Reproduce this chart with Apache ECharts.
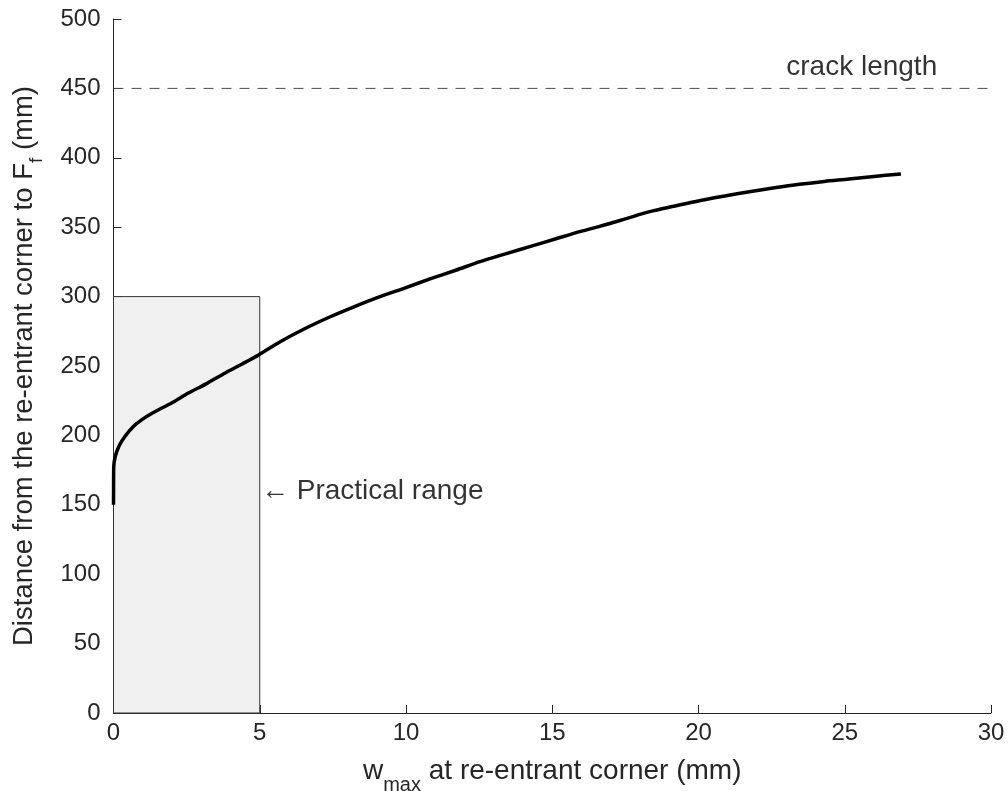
<!DOCTYPE html>
<html>
<head>
<meta charset="utf-8">
<title>Distance to Ff vs w_max</title>
<script src="https://cdn.jsdelivr.net/npm/echarts@6/dist/echarts.min.js"></script>
<style>
  html, body { margin: 0; padding: 0; background: #ffffff; }
  #chart { width: 1008px; height: 791px; }
</style>
</head>
<body>
<div id="chart"></div>
<script>
// w_max at the re-entrant corner (mm)
const wMax = [0, 0.003, 0.007, 0.06, 0.19, 0.39, 0.68, 0.96, 1.32, 2.0, 2.56, 3.2, 3.82, 4.4, 4.96,
  5.7, 6.5, 7.41, 8.2, 9.11, 10.0, 10.82, 11.7, 12.53, 13.4, 14.23, 15.1, 15.94, 16.62, 17.5, 18.33,
  19.2, 20.03, 20.9, 21.74, 22.6, 23.45, 24.3, 25.15, 26.0, 26.92];
// distance from the re-entrant corner to Ff (mm)
const distance = [150, 165, 177, 184.8, 192.4, 199.2, 206.4, 211.2, 216, 223.5, 230.5, 237.5, 245, 251.5, 258,
  267.5, 276.5, 285.5, 292.5, 300, 306.5, 312.7, 319, 325.2, 330.8, 336, 341.5, 346.8, 350.6, 356, 361.2,
  365.3, 369.1, 372.5, 375.6, 378.4, 380.9, 383, 384.7, 386.6, 388.3];

const crackLength = 450;            // mm
const practicalRange = [0, 5];      // w_max range (mm)
const practicalTop = 300;           // upper edge of the shaded box (mm)
const crackNote = [23, 465];
const rangeNote = [5.04, 160];

const xTicks = { min: 0, max: 30, interval: 5 };
const yTicks = { min: 0, max: 500, interval: 50 };

const FONT = '"Liberation Sans", Arial, Helvetica, "DejaVu Sans", sans-serif';
const INK = '#262626';

const curve = wMax.map((w, i) => [w, distance[i]]);

const chart = echarts.init(document.getElementById('chart'), null, { renderer: 'canvas' });

chart.setOption({
  animation: false,
  backgroundColor: '#ffffff',
  grid: { left: 113.5, right: 17, top: 19, bottom: 78, containLabel: false, outerBoundsMode: 'none' },
  xAxis: {
    type: 'value',
    min: xTicks.min, max: xTicks.max, interval: xTicks.interval,
    name: '{main|w}{sub|max}{main| at re-entrant corner (mm)}',
    nameLocation: 'middle',
    nameGap: 34,
    nameTextStyle: {
      fontFamily: FONT,
      color: INK,
      rich: {
        main: { fontFamily: FONT, fontSize: 28, color: INK },
        sub: { fontFamily: FONT, fontSize: 20, color: INK, padding: [28, 0, 0, 0] }
      }
    },
    axisLine: { show: true, lineStyle: { color: INK, width: 1 } },
    axisTick: { show: true, inside: true, length: 8, lineStyle: { color: INK, width: 1 } },
    axisLabel: { fontFamily: FONT, fontSize: 24, color: INK, margin: 8 },
    splitLine: { show: false }
  },
  yAxis: {
    type: 'value',
    min: yTicks.min, max: yTicks.max, interval: yTicks.interval,
    name: '{main|Distance from the re-entrant corner to F}{sub|f}{main| (mm)}',
    nameLocation: 'middle',
    nameRotate: 90,
    nameGap: 67,
    nameTextStyle: {
      fontFamily: FONT,
      color: INK,
      rich: {
        main: { fontFamily: FONT, fontSize: 27.5, color: INK },
        sub: { fontFamily: FONT, fontSize: 19, color: INK, padding: [26, 0, 0, 0] }
      }
    },
    axisLine: { show: true, lineStyle: { color: INK, width: 1 } },
    axisTick: { show: true, inside: true, length: 8, lineStyle: { color: INK, width: 1 } },
    axisLabel: { fontFamily: FONT, fontSize: 24, color: INK, margin: 13 },
    splitLine: { show: false }
  },
  series: [
    {
      // shaded practical range box
      type: 'line',
      data: [],
      silent: true,
      z: 1,
      markArea: {
        silent: true,
        itemStyle: { color: '#f0f0f0', borderColor: '#333333', borderWidth: 1 },
        data: [[
          { xAxis: practicalRange[0], yAxis: 0 },
          { xAxis: practicalRange[1], yAxis: practicalTop }
        ]]
      }
    },
    {
      // crack length reference line
      type: 'line',
      data: [[xTicks.min, crackLength], [xTicks.max, crackLength]],
      symbol: 'none',
      silent: true,
      z: 2,
      lineStyle: { color: '#4d4d4d', width: 1, type: [10, 8] }
    },
    {
      type: 'line',
      data: curve,
      symbol: 'none',
      smooth: 0.3,
      silent: true,
      z: 3,
      lineStyle: { color: '#000000', width: 3.5, cap: 'butt', join: 'round' }
    },
    {
      type: 'scatter',
      symbolSize: 0,
      silent: true,
      z: 4,
      data: [
        { value: crackNote, label: { formatter: 'crack length' } },
        { value: rangeNote, label: { formatter: '\u2190 Practical range' } }
      ],
      label: {
        show: true,
        position: 'right',
        distance: 0,
        fontFamily: FONT,
        fontSize: 28,
        color: '#000000'
      }
    }
  ]
});
</script>
</body>
</html>
